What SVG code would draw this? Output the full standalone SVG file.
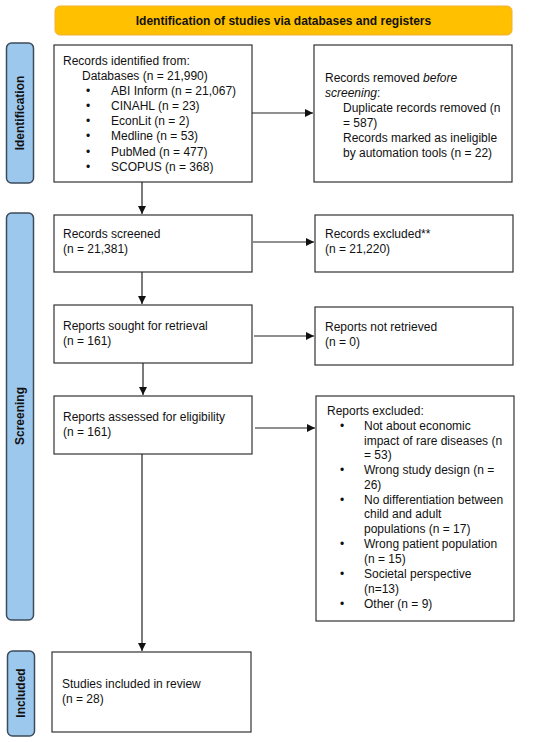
<svg xmlns="http://www.w3.org/2000/svg" width="550" height="742" viewBox="0 0 550 742">
<defs>
<marker id="ah" viewBox="0 0 10 10" refX="10" refY="5" markerWidth="8" markerHeight="8" markerUnits="userSpaceOnUse" orient="auto">
<path d="M0,0 L10,5 L0,10 z" fill="#111"/>
</marker>
<style>
.box{fill:#fff;stroke:#333;stroke-width:1.2}
.lbl{fill:#9DC8EE;stroke:#3B4B5A;stroke-width:1.5}
.t{font-family:"Liberation Sans",Arial,sans-serif;font-size:12px;fill:#111}
.b{font-family:"Liberation Sans",Arial,sans-serif;font-size:12px;font-weight:bold;fill:#111}
.c{fill:none;stroke:#222;stroke-width:1.2;marker-end:url(#ah)}
</style>
</defs>
<rect width="550" height="742" fill="#fff"/>
<g id="banner">
<rect x="55" y="6" width="457" height="29" rx="5" fill="#FFC000" stroke="#F2B134" stroke-width="1"/>
<text class="b" x="283.5" y="25" text-anchor="middle">Identification of studies via databases and registers</text>
</g>
<g id="label-identification">
<rect class="lbl" x="6.5" y="43" width="27" height="140" rx="5"/>
<text class="b" transform="translate(24,113) rotate(-90)" text-anchor="middle">Identification</text>
</g>
<g id="label-screening">
<rect class="lbl" x="6.5" y="213" width="27" height="407" rx="5"/>
<text class="b" transform="translate(24,416) rotate(-90)" text-anchor="middle">Screening</text>
</g>
<g id="label-included">
<rect class="lbl" x="7.5" y="651" width="27" height="85" rx="5"/>
<text class="b" transform="translate(25,693) rotate(-90)" text-anchor="middle">Included</text>
</g>
<g id="records-identified">
<rect class="box" x="54" y="45" width="198" height="137"/>
<text class="t" x="63" y="65">Records identified from:</text>
<text class="t" x="82" y="80">Databases (n = 21,990)</text>
<g class="t">
<text x="86" y="95">•</text><text x="111" y="95">ABI Inform (n = 21,067)</text>
<text x="86" y="110">•</text><text x="111" y="110">CINAHL (n = 23)</text>
<text x="86" y="125">•</text><text x="111" y="125">EconLit (n = 2)</text>
<text x="86" y="140">•</text><text x="111" y="140">Medline (n = 53)</text>
<text x="86" y="156">•</text><text x="111" y="156">PubMed (n = 477)</text>
<text x="86" y="171">•</text><text x="111" y="171">SCOPUS (n = 368)</text>
</g>
</g>
<g id="records-removed">
<rect class="box" x="314" y="45" width="198" height="137"/>
<text class="t" x="325" y="82">Records removed <tspan font-style="italic">before</tspan></text>
<text class="t" x="325" y="97"><tspan font-style="italic">screening</tspan>:</text>
<text class="t" x="343" y="112">Duplicate records removed (n</text>
<text class="t" x="343" y="127">= 587)</text>
<text class="t" x="343" y="142">Records marked as ineligible</text>
<text class="t" x="343" y="157">by automation tools (n = 22)</text>
</g>
<g id="records-screened">
<rect class="box" x="54" y="215" width="198" height="57"/>
<text class="t" x="63" y="238">Records screened</text>
<text class="t" x="63" y="253">(n = 21,381)</text>
</g>
<g id="records-excluded">
<rect class="box" x="315" y="215" width="198" height="57"/>
<text class="t" x="325" y="238">Records excluded**</text>
<text class="t" x="325" y="253">(n = 21,220)</text>
</g>
<g id="reports-sought">
<rect class="box" x="54" y="305" width="198" height="58"/>
<text class="t" x="63" y="330">Reports sought for retrieval</text>
<text class="t" x="63" y="345">(n = 161)</text>
</g>
<g id="reports-not-retrieved">
<rect class="box" x="315" y="307" width="198" height="58"/>
<text class="t" x="325" y="331">Reports not retrieved</text>
<text class="t" x="325" y="346">(n = 0)</text>
</g>
<g id="reports-assessed">
<rect class="box" x="54" y="396" width="198" height="58"/>
<text class="t" x="63" y="421">Reports assessed for eligibility</text>
<text class="t" x="63" y="436">(n = 161)</text>
</g>
<g id="reports-excluded">
<rect class="box" x="316" y="396" width="198" height="225"/>
<text class="t" x="327" y="415">Reports excluded:</text>
<g class="t">
<text x="340" y="430">•</text><text x="364" y="430">Not about economic</text>
<text x="364" y="445">impact of rare diseases (n</text>
<text x="364" y="459">= 53)</text>
<text x="340" y="474">•</text><text x="364" y="474">Wrong study design (n =</text>
<text x="364" y="489">26)</text>
<text x="340" y="504">•</text><text x="364" y="504">No differentiation between</text>
<text x="364" y="518">child and adult</text>
<text x="364" y="533">populations (n = 17)</text>
<text x="340" y="548">•</text><text x="364" y="548">Wrong patient population</text>
<text x="364" y="563">(n = 15)</text>
<text x="340" y="578">•</text><text x="364" y="578">Societal perspective</text>
<text x="364" y="593">(n=13)</text>
<text x="340" y="608">•</text><text x="364" y="608">Other (n = 9)</text>
</g>
</g>
<g id="studies-included">
<rect class="box" x="52" y="652" width="199" height="80"/>
<text class="t" x="62" y="688">Studies included in review</text>
<text class="t" x="62" y="703">(n = 28)</text>
</g>
<g id="connectors">
<line class="c" x1="252" y1="113" x2="313" y2="113"/>
<line class="c" x1="142" y1="182" x2="142" y2="214"/>
<line class="c" x1="253" y1="242" x2="314" y2="242"/>
<line class="c" x1="142" y1="272" x2="142" y2="304"/>
<line class="c" x1="254" y1="336" x2="314" y2="336"/>
<line class="c" x1="143" y1="363" x2="143" y2="395"/>
<line class="c" x1="255" y1="428" x2="315" y2="428"/>
<line class="c" x1="142" y1="454" x2="142" y2="651"/>
</g>
</svg>
